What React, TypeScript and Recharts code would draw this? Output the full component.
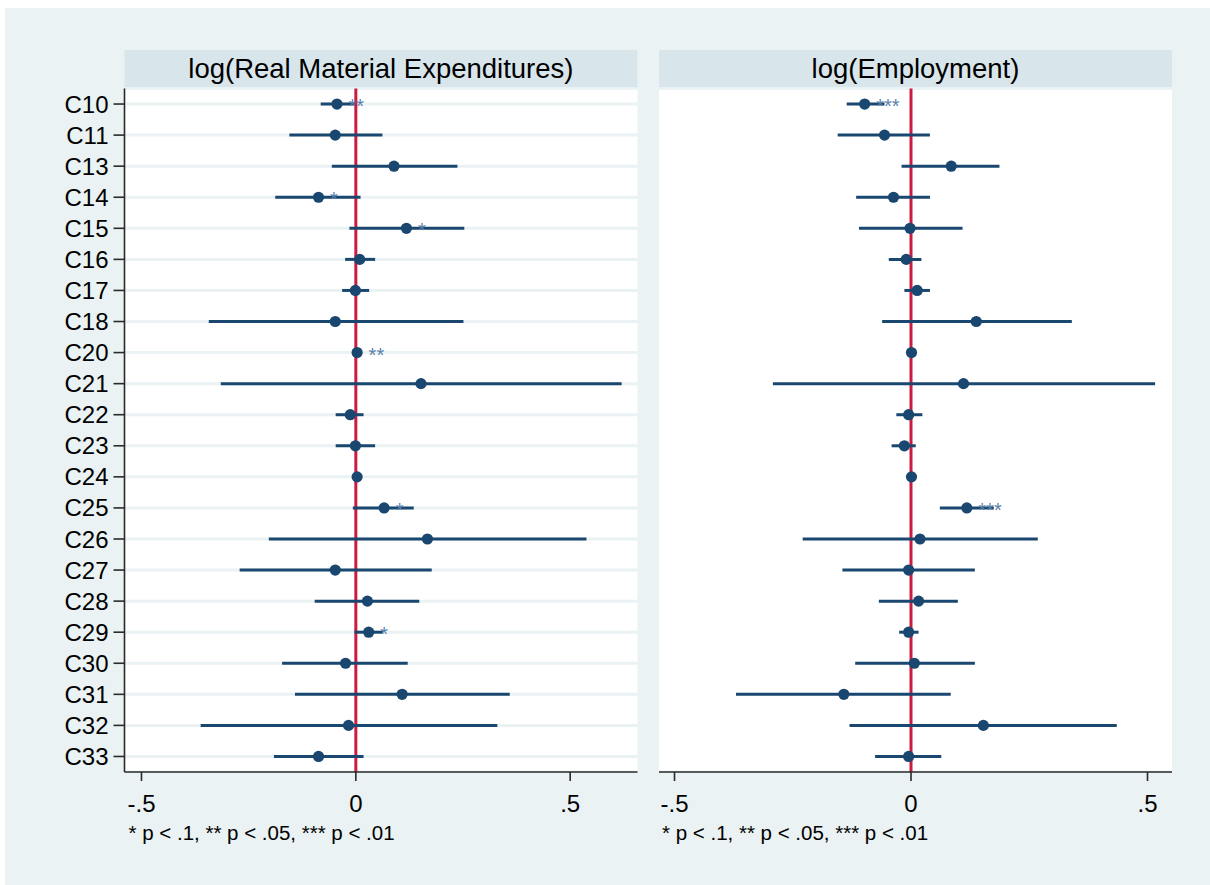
import React from "react";
import {
  ScatterChart,
  Scatter,
  XAxis,
  YAxis,
  CartesianGrid,
  ReferenceLine,
  ErrorBar,
} from "recharts";

// ---------- data ----------
const categories = [
  "C10", "C11", "C13", "C14", "C15", "C16", "C17", "C18", "C20", "C21", "C22",
  "C23", "C24", "C25", "C26", "C27", "C28", "C29", "C30", "C31", "C32", "C33",
];

const matCoef = [
  -0.044, -0.048, 0.089, -0.087, 0.118, 0.009, -0.001, -0.048, 0.003, 0.152, -0.013,
  -0.001, 0.003, 0.066, 0.167, -0.048, 0.027, 0.030, -0.024, 0.108, -0.017, -0.087,
];
const matLo = [
  -0.082, -0.155, -0.056, -0.188, -0.015, -0.025, -0.032, -0.343, -0.001, -0.315, -0.047,
  -0.047, -0.001, -0.007, -0.203, -0.271, -0.096, -0.003, -0.172, -0.142, -0.362, -0.191,
];
const matHi = [
  -0.003, 0.062, 0.237, 0.011, 0.253, 0.045, 0.031, 0.251, 0.007, 0.620, 0.018,
  0.045, 0.007, 0.135, 0.538, 0.177, 0.148, 0.063, 0.121, 0.359, 0.330, 0.018,
];
const matStars = [
  "**", "", "", "*", "*", "", "", "", "**", "", "",
  "", "", "*", "", "", "", "*", "", "", "", "",
];

const empCoef = [
  -0.098, -0.056, 0.085, -0.037, -0.002, -0.010, 0.013, 0.138, 0.001, 0.111, -0.005,
  -0.014, 0.001, 0.118, 0.019, -0.005, 0.016, -0.005, 0.007, -0.142, 0.153, -0.005,
];
const empLo = [
  -0.136, -0.155, -0.020, -0.116, -0.110, -0.047, -0.014, -0.061, -0.003, -0.292, -0.031,
  -0.041, -0.003, 0.061, -0.229, -0.145, -0.068, -0.025, -0.118, -0.370, -0.130, -0.076,
];
const empHi = [
  -0.056, 0.040, 0.187, 0.040, 0.109, 0.022, 0.040, 0.340, 0.005, 0.516, 0.024,
  0.010, 0.005, 0.175, 0.268, 0.135, 0.099, 0.016, 0.135, 0.084, 0.435, 0.064,
];
const empStars = [
  "***", "", "", "", "", "", "", "", "", "", "",
  "", "", "***", "", "", "", "", "", "", "", "",
];

const xTicks = [-0.5, 0, 0.5];
const xTickLabels = ["-.5", "0", ".5"];
const panelTitles = ["log(Real Material Expenditures)", "log(Employment)"];
const noteText = "* p < .1, ** p < .05, *** p < .01";

// ---------- styles ----------
const FONT = "'Liberation Sans', Arial, Helvetica, sans-serif";
const NAVY = "#1a476f";
const STAR = "#5a82ad";
const RED = "#cc1a40";
const AX = "#2a2a2a";
const BG = "#eaf2f3";
const STRIP = "#d8e5ea";
const GRID = "#eaf2f3";

const renderPoint = (props: any) => {
  const { cx, cy, payload } = props;
  if (cx == null || cy == null) return <g />;
  return (
    <g>
      <circle cx={cx} cy={cy} r={5.6} fill={NAVY} />
      {payload && payload.stars ? (
        <text
          x={cx + 11.5}
          y={cy + 9}
          fontSize={20}
          fontFamily={FONT}
          fill={STAR}
        >
          {payload.stars}
        </text>
      ) : null}
    </g>
  );
};

type PanelProps = {
  left: number;
  width: number;
  coef: number[];
  lo: number[];
  hi: number[];
  stars: string[];
  domain: [number, number];
  showY: boolean;
};

function Panel({ left, width, coef, lo, hi, stars, domain, showY }: PanelProps) {
  const rows = categories.map((c, i) => ({
    cat: c,
    idx: i,
    coef: coef[i],
    err: [coef[i] - lo[i], hi[i] - coef[i]],
    stars: stars[i],
  }));
  const idxTicks = categories.map((_, i) => i);
  return (
    <div style={{ position: "absolute", left, top: 0 }}>
      <ScatterChart
        width={width}
        height={885}
        margin={{ top: 88.5, right: 0, bottom: 73, left: 0 }}
      >
        <CartesianGrid
          vertical={false}
          horizontal={true}
          stroke={GRID}
          strokeWidth={3}
          fill="#ffffff"
        />
        <XAxis
          type="number"
          dataKey="coef"
          domain={domain}
          allowDataOverflow
          ticks={xTicks}
          interval={0}
          tickFormatter={(v: number, i: number) => xTickLabels[i]}
          height={40}
          tickSize={9}
          tickMargin={14}
          axisLine={{ stroke: AX, strokeWidth: 1.6 }}
          tickLine={{ stroke: AX, strokeWidth: 1.6 }}
          tick={{ fontSize: 24, fill: "#000", fontFamily: FONT }}
        />
        <YAxis
          type="number"
          dataKey="idx"
          domain={[-0.5, 21.5]}
          allowDataOverflow
          reversed
          ticks={idxTicks}
          interval={0}
          tickFormatter={(v: number) => categories[v]}
          width={showY ? 124.5 : 0}
          tickSize={showY ? 11 : 0}
          tickMargin={5}
          axisLine={showY ? { stroke: AX, strokeWidth: 1.6 } : false}
          tickLine={showY ? { stroke: AX, strokeWidth: 1.6 } : false}
          tick={showY ? { fontSize: 24, fill: "#000", fontFamily: FONT } : false}
        />
        <ReferenceLine x={0} stroke={RED} strokeWidth={3} />
        <Scatter data={rows} isAnimationActive={false} shape={renderPoint}>
          <ErrorBar
            dataKey="err"
            direction="x"
            width={0}
            stroke={NAVY}
            strokeWidth={3}
            isAnimationActive={false}
          />
        </Scatter>
      </ScatterChart>
    </div>
  );
}

export default function App() {
  return (
    <div
      style={{
        position: "absolute",
        left: 0,
        top: 0,
        width: 1210,
        height: 885,
        background: "#ffffff",
        fontFamily: FONT,
      }}
    >
      <svg
        width={1210}
        height={885}
        style={{ position: "absolute", left: 0, top: 0 }}
      >
        <rect x={5} y={8} width={1205} height={877} fill={BG} />
        <rect x={124.5} y={50} width={512.8} height={38.5} fill={STRIP} />
        <rect x={659} y={50} width={513} height={38.5} fill={STRIP} />
        <text
          x={380.9}
          y={77.5}
          textAnchor="middle"
          fontSize={27.5}
          fontFamily={FONT}
          fill="#000"
        >
          {panelTitles[0]}
        </text>
        <text
          x={915.5}
          y={77.5}
          textAnchor="middle"
          fontSize={27.5}
          fontFamily={FONT}
          fill="#000"
        >
          {panelTitles[1]}
        </text>
        <text x={128.5} y={840} fontSize={20.5} fontFamily={FONT} fill="#000">
          {noteText}
        </text>
        <text x={662} y={840} fontSize={20.5} fontFamily={FONT} fill="#000">
          {noteText}
        </text>
      </svg>
      <Panel
        left={0}
        width={637.5}
        coef={matCoef}
        lo={matLo}
        hi={matHi}
        stars={matStars}
        domain={[-0.5396, 0.657]}
        showY={true}
      />
      <Panel
        left={659}
        width={513}
        coef={empCoef}
        lo={empLo}
        hi={empHi}
        stars={empStars}
        domain={[-0.5328, 0.5518]}
        showY={false}
      />
    </div>
  );
}
